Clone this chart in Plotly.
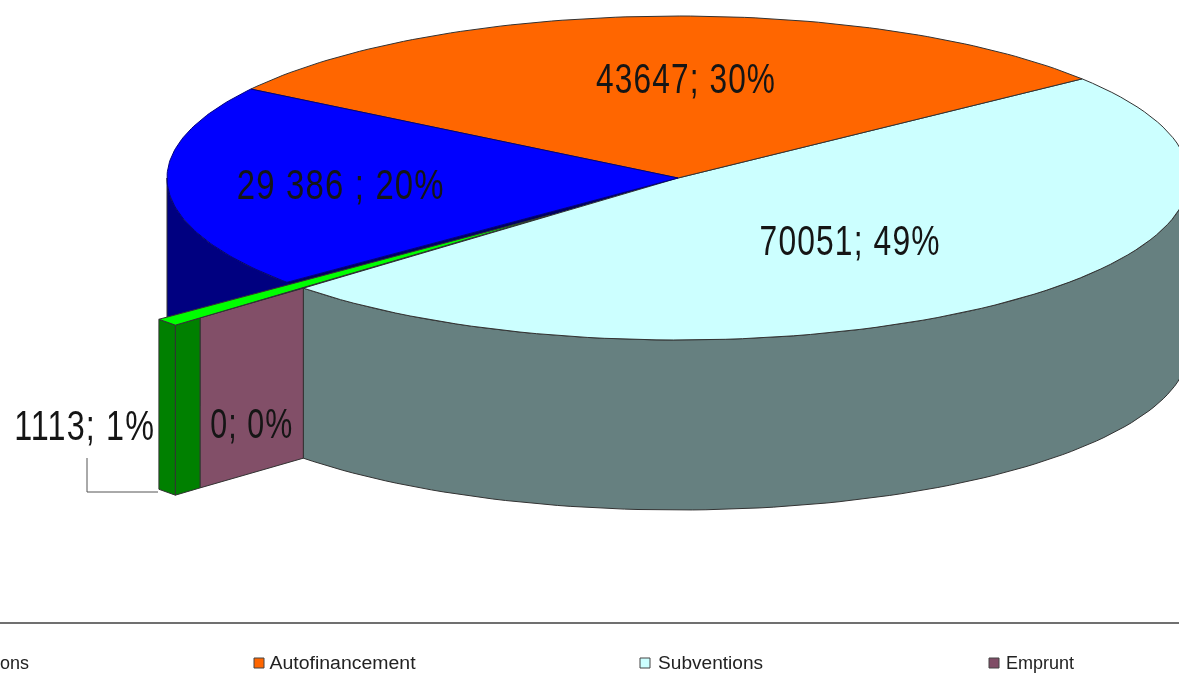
import json
import math
import plotly.graph_objects as go

# --- data
categories = ["Autofinancement", "Subventions", "Emprunt", "Apport", "ons"]
values = [43647, 70051, 0, 1113, 29386]
slice_labels = ["43647; 30%", "70051; 49%", "0; 0%", "1113; 1%", "29 386 ; 20%"]
top_colors = ["#FF6600", "#CCFFFF", "#804D66", "#00FF00", "#0000FF"]
wall_colors = ["#803300", "#668080", "#824F68", "#008000", "#000080"]

# --- 3D projection of the pie
CX, CY, RX, RY, DEPTH = 678, 178, 511, 162, 170
START = 37.8 + 108.9   # angle where the first slice starts, clockwise
EXPLODE = (-128, 37)
EDGE = "#333333"
FONT = "Liberation Sans, Arial, sans-serif"


def rim(t, dx=0, dy=0, drop=0):
    r = math.radians(t)
    return CX + RX * math.cos(r) + dx, CY - RY * math.sin(r) + dy + drop


def arc(t1, t2, dx=0, dy=0, drop=0, n=90):
    return [rim(t1 + (t2 - t1) * i / n, dx, dy, drop) for i in range(n + 1)]


def poly(fig, pts, fill, line=EDGE, width=1):
    xs = [p[0] for p in pts] + [pts[0][0]]
    ys = [p[1] for p in pts] + [pts[0][1]]
    fig.add_trace(go.Scatter(x=xs, y=ys, mode="lines", fill="toself", fillcolor=fill,
                             line=dict(color=line, width=width), hoverinfo="skip",
                             showlegend=False))


total = sum(values)
angles = {}
t = START
for name, v in zip(categories, values):
    angles[name] = (t, t - v / total * 360)
    t -= v / total * 360

fig = go.Figure()
a_or = angles["Autofinancement"]
a_cy = angles["Subventions"]
a_gr = angles["Apport"]
a_bl = angles["ons"]
center = (CX, CY)
cy_end = a_cy[1] + 360      # same angle, measured on the lower half

# outer walls
poly(fig, arc(180, cy_end) + arc(cy_end, 180, drop=DEPTH), wall_colors[4])
poly(fig, arc(cy_end, 360) + arc(360, cy_end, drop=DEPTH), wall_colors[1])
# hole left by the exploded sliver
poly(fig, [center] + arc(a_gr[0], a_gr[1], n=4), "#000060", line="#000060")
# top faces
poly(fig, [center] + arc(a_cy[0], a_cy[1]), top_colors[1])
poly(fig, [center] + arc(a_or[0], a_or[1]), top_colors[0])
poly(fig, [center] + arc(a_bl[0], a_bl[1]), top_colors[4], line="#000080")

# exploded sliver and the empty slice's face
dx, dy = EXPLODE
apex = (CX + dx, CY + dy)
tip_r = rim(a_gr[0], dx, dy)
tip_l = rim(a_gr[1], dx, dy)
f = 0.066
split = (tip_r[0] + (apex[0] - tip_r[0]) * f, tip_r[1] + (apex[1] - tip_r[1]) * f)
rim_cy = rim(a_cy[1])


def drop(p):
    return p[0], p[1] + DEPTH


poly(fig, [split, rim_cy, drop(rim_cy), drop(split)], wall_colors[2])
poly(fig, [tip_r, split, drop(split), drop(tip_r)], wall_colors[3])
poly(fig, [tip_l, tip_r, drop(tip_r), drop(tip_l)], wall_colors[3])
poly(fig, [apex, tip_l, tip_r], top_colors[3], width=1)

# leader line and separator
fig.add_shape(type="path", path="M 87 458 L 87 492 L 158 492",
              line=dict(color="#555555", width=1))
fig.add_shape(type="line", x0=0, x1=1179, y0=623, y1=623,
              line=dict(color="#707070", width=2))

# slice labels: centre and drawn width in the picture
label_pos = {"Autofinancement": (686, 78), "Subventions": (850, 240), "Emprunt": (251, 423),
             "Apport": (84, 425), "ons": (341, 184)}
label_width = {"43647; 30%": 180, "70051; 49%": 181, "0; 0%": 83, "1113; 1%": 141,
               "29 386 ; 20%": 208}
for name, text in zip(categories, slice_labels):
    x, y = label_pos[name]
    fig.add_annotation(x=x, y=y, text=text, showarrow=False,
                       font=dict(family=FONT, size=42, color="#151515"))

# legend row
legend_pos = {"Autofinancement": (259, 273), "Subventions": (645, 659), "Emprunt": (994, 1004)}
label_width.update({"Autofinancement": 146, "Subventions": 105, "Emprunt": 68, "ons": 29})
for name, (mx, tx) in legend_pos.items():
    i = categories.index(name)
    fig.add_trace(go.Scatter(x=[mx], y=[663], mode="markers", hoverinfo="skip", showlegend=False,
                             marker=dict(symbol="square", size=10, color=top_colors[i],
                                         line=dict(color="#444444", width=1))))
    fig.add_annotation(x=tx, y=663, text=name, showarrow=False, xanchor="left",
                       font=dict(family=FONT, size=18, color="#222222"))
fig.add_annotation(x=0, y=663, xshift=-2, text="ons", showarrow=False, xanchor="left",
                   font=dict(family=FONT, size=18, color="#222222"))

fig.update_layout(width=1179, height=673, margin=dict(l=0, r=0, t=0, b=0),
                  paper_bgcolor="white", plot_bgcolor="white", showlegend=False,
                  xaxis=dict(range=[0, 1179], visible=False, fixedrange=True),
                  yaxis=dict(range=[673, 0], visible=False, fixedrange=True))

script = """
document.body.style.margin='0';document.body.style.overflow='hidden';
var widths = %s;
document.querySelectorAll('.annotation-text').forEach(function(el){
  var w = widths[el.textContent];
  if (w) {
    if (w > 70 && !/[a-z]/.test(el.textContent)) { el.style.letterSpacing = '1.5px'; }
    el.setAttribute('textLength', w); el.setAttribute('lengthAdjust','spacingAndGlyphs');
  }
});
document.querySelector('.main-svg').parentNode.style.filter='blur(0.5px)';
""" % json.dumps(label_width)

fig.write_html("out.html", config={"displayModeBar": False}, post_script=script)
